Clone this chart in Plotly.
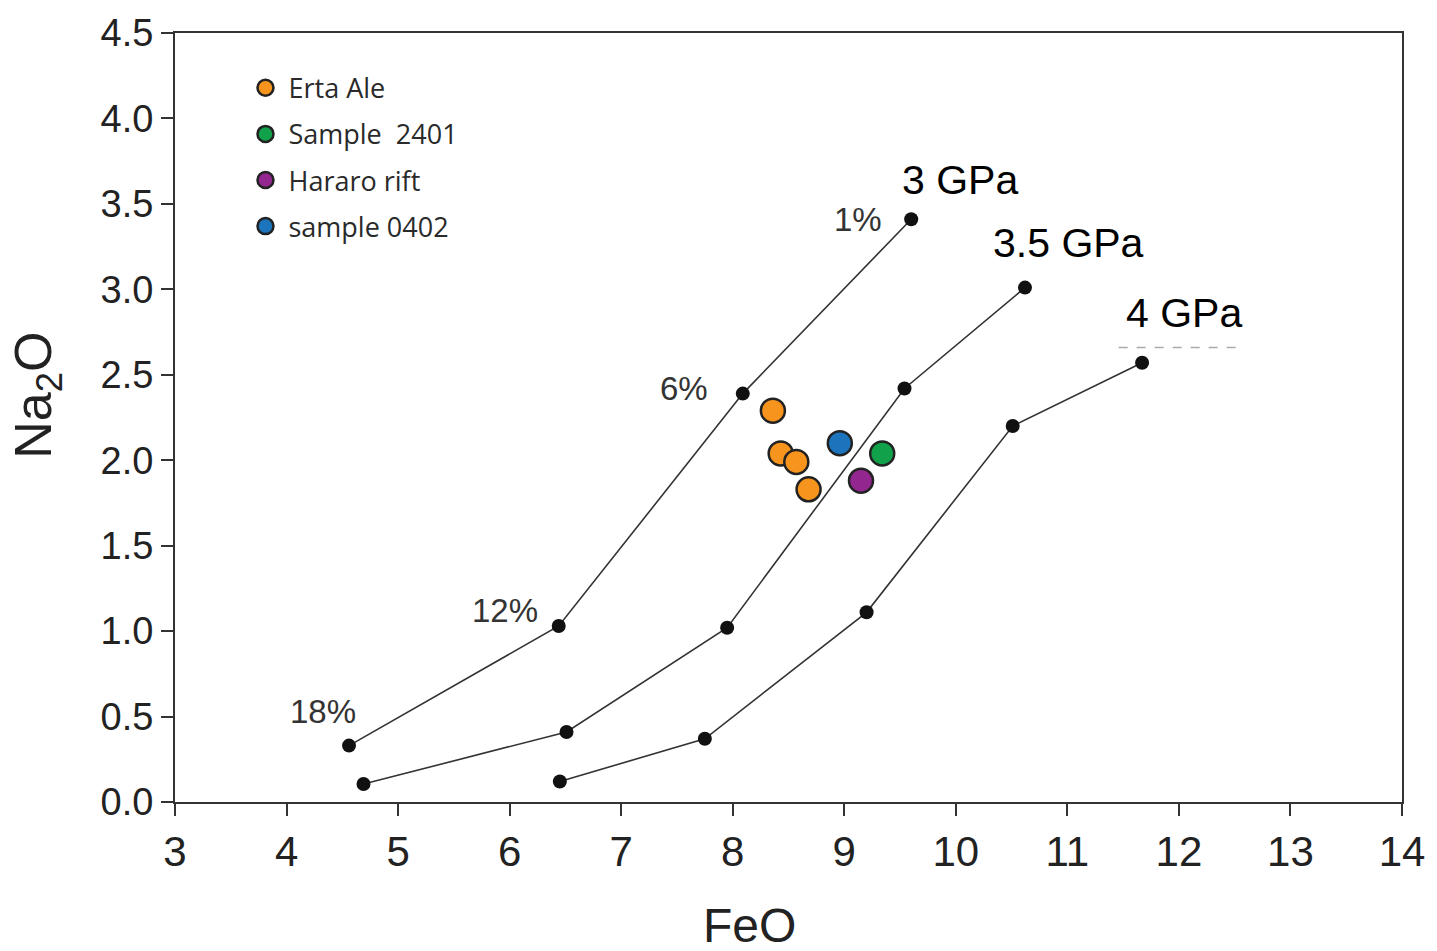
import plotly.graph_objects as go

# Melting curves (FeO, Na2O)
gpa3_feo = [4.56, 6.44, 8.09, 9.60]
gpa3_na2o = [0.33, 1.03, 2.39, 3.41]
gpa35_feo = [4.69, 6.51, 7.95, 9.54, 10.62]
gpa35_na2o = [0.105, 0.41, 1.02, 2.42, 3.01]
gpa4_feo = [6.45, 7.75, 9.20, 10.51, 11.67]
gpa4_na2o = [0.12, 0.37, 1.11, 2.20, 2.57]

# Samples
erta_feo = [8.36, 8.43, 8.57, 8.68]
erta_na2o = [2.29, 2.04, 1.99, 1.83]
s2401_feo = [9.34]
s2401_na2o = [2.04]
hararo_feo = [9.15]
hararo_na2o = [1.88]
s0402_feo = [8.96]
s0402_na2o = [2.10]

pct_labels = ["1%", "6%", "12%", "18%"]
pct_x = [9.12, 7.56, 5.96, 4.33]
pct_y = [3.41, 2.42, 1.12, 0.53]
gpa_labels = ["3 GPa", "3.5 GPa", "4 GPa"]
gpa_x = [10.04, 11.01, 12.05]
gpa_y = [3.64, 3.27, 2.86]

fig = go.Figure()
line_style = dict(color="#333333", width=1.6)
dot_style = dict(color="#111111", size=14)
for xs, ys in [(gpa3_feo, gpa3_na2o), (gpa35_feo, gpa35_na2o), (gpa4_feo, gpa4_na2o)]:
    fig.add_trace(go.Scatter(x=xs, y=ys, mode="lines+markers", line=line_style,
                             marker=dot_style, showlegend=False, hoverinfo="skip"))

samples = [
    ("Erta Ale", erta_feo, erta_na2o, "#F7941D"),
    ("Sample  2401", s2401_feo, s2401_na2o, "#12A14B"),
    ("Hararo rift", hararo_feo, hararo_na2o, "#93278F"),
    ("sample 0402", s0402_feo, s0402_na2o, "#1C75BC"),
]
for i, (name, xs, ys, col) in enumerate(samples):
    fig.add_trace(go.Scatter(x=xs, y=ys, mode="markers", name=name, legendgroup=str(i),
                             marker=dict(color=col, size=24, line=dict(color="#222222", width=2.5))))

for t, x, y in zip(pct_labels, pct_x, pct_y):
    fig.add_annotation(x=x, y=y, text=t, showarrow=False,
                       font=dict(family="Liberation Sans, Arial", size=33, color="#333333"))
for t, x, y in zip(gpa_labels, gpa_x, gpa_y):
    fig.add_annotation(x=x, y=y, text=t, showarrow=False,
                       font=dict(family="Liberation Sans, Arial", size=41, color="#000000"))

# faint clipped-text fragment beneath "4 GPa"
fig.add_shape(type="line", xref="x", yref="y", x0=11.46, x1=12.58, y0=2.66, y1=2.66,
              line=dict(color="#aaaaaa", width=1.5, dash="dash"))

# axis titles
fig.add_annotation(xref="paper", yref="paper", x=0.468, y=-0.160, xanchor="center", yanchor="middle",
                   text="FeO", showarrow=False,
                   font=dict(family="Liberation Sans, Arial", size=48, color="#222222"))
fig.add_annotation(xref="paper", yref="paper", x=-0.112, y=0.529, xanchor="center", yanchor="middle",
                   text="Na<sub>2</sub>O", textangle=-90, showarrow=False,
                   font=dict(family="Liberation Sans, Arial", size=52, color="#222222"))

axis_common = dict(showgrid=False, zeroline=False, showline=True, linecolor="#333333",
                   linewidth=2, mirror=True, ticks="outside", ticklen=12, tickwidth=1.5,
                   tickcolor="#333333")
fig.update_xaxes(range=[3, 14], dtick=1, **axis_common,
                 tickfont=dict(family="Liberation Sans, Arial", size=42, color="#222222"))
fig.update_yaxes(range=[0, 4.5], dtick=0.5, tickformat=".1f", **axis_common,
                 tickfont=dict(family="Liberation Sans, Arial", size=38, color="#222222"))

fig.update_layout(
    width=1437, height=951,
    margin=dict(l=175, r=30, t=33, b=149),
    plot_bgcolor="white", paper_bgcolor="white",
    legend=dict(x=0.055, y=0.96, xanchor="left", yanchor="top", bgcolor="rgba(0,0,0,0)",
                font=dict(family="Open Sans, Lato", size=27, color="#2a2a2a"),
                tracegroupgap=8, itemsizing="trace", itemwidth=36),
)
fig.write_html("out.html")
